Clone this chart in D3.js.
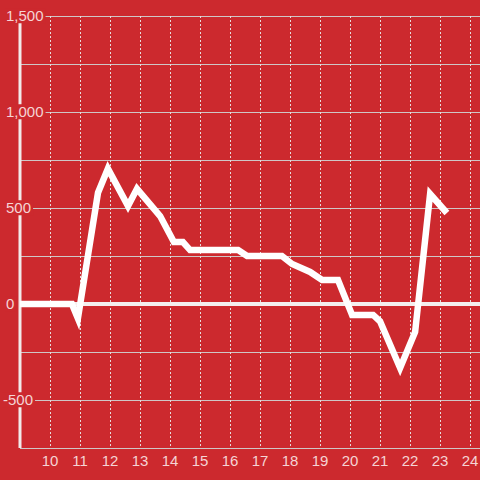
<!DOCTYPE html>
<html>
<head>
<meta charset="utf-8">
<script src="https://cdn.jsdelivr.net/npm/d3@7"></script>
<style>
  html, body { margin: 0; padding: 0; background: #cc292e; }
  svg { display: block; }
  text { font-family: "Liberation Sans", Arial, sans-serif; font-size: 15px; fill: #f5d4d5; }
</style>
</head>
<body>
<div id="chart"></div>
<script>
// data (hour of day, value)
var hours = [9.0, 10.73, 10.93, 11.6, 11.93, 12.6, 12.9, 13.67, 14.13, 14.43, 14.67, 16.27, 16.57,
             17.73, 18.07, 18.67, 19.07, 19.6, 20.07, 20.77, 21.0, 21.67, 22.17, 22.67, 23.23];
var values = [0, 0, -75, 580, 705, 510, 600, 458, 323, 323, 281, 281, 250,
              250, 208, 167, 125, 125, -57, -57, -90, -333, -146, 573, 474];
var xTicks = [10, 11, 12, 13, 14, 15, 16, 17, 18, 19, 20, 21, 22, 23, 24];
var yTicks = [1500, 1000, 500, 0, -500];
var yGrid = [1500, 1250, 1000, 750, 500, 250, -250, -500, -750];

var width = 480, height = 480;

var x = d3.scaleLinear().domain([9, 24.333]).range([20, 480]);
var y = d3.scaleLinear().domain([-750, 1500]).range([448, 16]);

var svg = d3.select("#chart").append("svg")
    .attr("width", width)
    .attr("height", height);

svg.append("rect").attr("width", width).attr("height", height).attr("fill", "#cc292e");

// horizontal grid
svg.append("g").selectAll("line")
    .data(yGrid)
    .enter().append("line")
    .attr("x1", x(9)).attr("x2", width)
    .attr("y1", function (d) { return y(d) + 0.5; })
    .attr("y2", function (d) { return y(d) + 0.5; })
    .attr("stroke", "#cfc6c6")
    .attr("stroke-width", 1);

// vertical dashed grid
svg.append("g").selectAll("line")
    .data(xTicks)
    .enter().append("line")
    .attr("x1", function (d) { return x(d) + 0.5; })
    .attr("x2", function (d) { return x(d) + 0.5; })
    .attr("y1", y(1500)).attr("y2", y(-750))
    .attr("stroke", "#e6dcdc")
    .attr("stroke-width", 1)
    .attr("stroke-dasharray", "2,2");

// zero line
svg.append("line")
    .attr("x1", x(9)).attr("x2", width)
    .attr("y1", y(0)).attr("y2", y(0))
    .attr("stroke", "#f4eeee")
    .attr("stroke-width", 4);

// y axis line
svg.append("line")
    .attr("x1", x(9)).attr("x2", x(9))
    .attr("y1", y(1500)).attr("y2", y(-750))
    .attr("stroke", "#f2eaea")
    .attr("stroke-width", 3);

// the series
var line = d3.line()
    .x(function (d) { return x(d[0]); })
    .y(function (d) { return y(d[1]); });

svg.append("path")
    .datum(hours.map(function (h, i) { return [h, values[i]]; }))
    .attr("d", line)
    .attr("fill", "none")
    .attr("stroke", "#ffffff")
    .attr("stroke-width", 6.5)
    .attr("stroke-linejoin", "miter")
    .attr("stroke-linecap", "butt");

// y labels with a background box that cuts the axis and grid
var fmt = d3.format(",");
var yLab = svg.append("g").selectAll("g")
    .data(yTicks)
    .enter().append("g");

yLab.append("rect").attr("fill", "#cc292e");
yLab.append("text")
    .attr("x", function (d) { return d < 0 ? 3 : 6; })
    .attr("y", function (d) { return y(d); })
    .attr("dy", "0.35em")
    .text(function (d) { return fmt(d).replace("−", "-"); });
yLab.each(function () {
    var g = d3.select(this);
    var b = g.select("text").node().getBBox();
    g.select("rect")
        .attr("x", b.x - 1).attr("y", b.y + 1)
        .attr("width", b.width + 3).attr("height", b.height - 2);
});

// x labels
svg.append("g").selectAll("text")
    .data(xTicks)
    .enter().append("text")
    .attr("x", function (d) { return x(d); })
    .attr("y", 461)
    .attr("dy", "0.35em")
    .attr("text-anchor", "middle")
    .text(function (d) { return d; });
</script>
</body>
</html>
